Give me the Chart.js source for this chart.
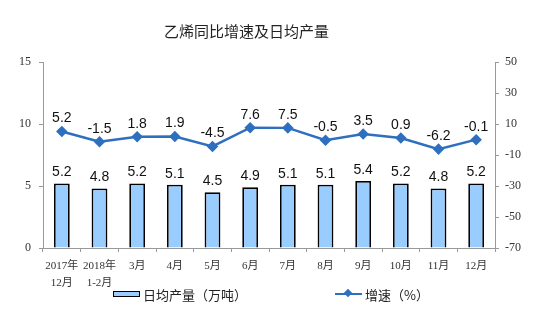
<!DOCTYPE html>
<html>
<head>
<meta charset="utf-8">
<script src="https://cdn.jsdelivr.net/npm/chart.js@4"></script>
<style>
  body { margin: 0; background: #fff; }
  #wrap { position: relative; width: 541px; height: 324px; }
  #title { position: absolute; left: 0; width: 493px; top: 20px; text-align: center;
    font: 15px "Noto Sans CJK SC", sans-serif; color: #222; }
  .leg { position: absolute; top: 283px; font: 13px "Noto Sans CJK SC", sans-serif; color: #222; }
  .leg span { display: inline-block; vertical-align: middle; }
  .box { width: 25px; height: 4px; background: #99ccff; border: 1.5px solid #000; margin-right: 3px; }
  .ln { position: relative; width: 27px; height: 2px; background: #2e6fbf; margin-right: 3px; }
  .ln i { position: absolute; left: 10px; top: -3px; width: 6px; height: 6px; background: #2e6fbf; transform: rotate(45deg); }
</style>
</head>
<body>
<div id="wrap">
  <canvas id="chart" width="541" height="324"></canvas>
  <div id="title">乙烯同比增速及日均产量</div>
  <div class="leg" style="left:113px"><span class="box"></span><span>日均产量（万吨）</span></div>
  <div class="leg" style="left:335px"><span class="ln"><i></i></span><span>增速（%）</span></div>
</div>
<script>
const categories = [["2017年", "12月"], ["2018年", "1-2月"], "3月", "4月", "5月", "6月", "7月", "8月", "9月", "10月", "11月", "12月"];
const dailyOutput = [5.2, 4.8, 5.2, 5.1, 4.5, 4.9, 5.1, 5.1, 5.4, 5.2, 4.8, 5.2];
const growthRate = [5.2, -1.5, 1.8, 1.9, -4.5, 7.6, 7.5, -0.5, 3.5, 0.9, -6.2, -0.1];

const tickFont = { family: "'Liberation Serif', 'Noto Sans CJK SC', serif", size: 12 };
const xFont = { family: "'Liberation Serif', 'Noto Sans CJK SC', serif", size: 11, lineHeight: 1.5 };
const axisColor = "#999";

// draws the value above each bar and each line point
const valueLabels = {
    id: "valueLabels",
    afterDatasetsDraw(chart) {
        const ctx = chart.ctx;
        ctx.save();
        ctx.font = "14px 'Liberation Sans', Arial, sans-serif";
        ctx.fillStyle = "#111";
        ctx.textAlign = "center";
        ctx.textBaseline = "bottom";
        chart.data.datasets.forEach((ds, i) => {
            const meta = chart.getDatasetMeta(i);
            meta.data.forEach((el, j) => {
                const off = ds.type === "line" ? 6 : 4;
                ctx.fillText(ds.data[j].toFixed(1), el.x, el.y - off);
            });
        });
        ctx.restore();
    }
};

new Chart(document.getElementById("chart"), {
    data: {
        labels: categories,
        datasets: [
            {
                type: "line",
                label: "增速（%）",
                data: growthRate,
                yAxisID: "y1",
                borderColor: "#2e6fbf",
                backgroundColor: "#2e6fbf",
                borderWidth: 2.5,
                pointStyle: "rectRot",
                pointRadius: 4,
                tension: 0
            },
            {
                type: "bar",
                label: "日均产量（万吨）",
                data: dailyOutput,
                yAxisID: "y",
                backgroundColor: "#99ccff",
                borderColor: "#000",
                borderWidth: 1.8,
                barPercentage: 0.42,
                categoryPercentage: 1
            }
        ]
    },
    options: {
        responsive: false,
        animation: false,
        layout: { padding: { top: 62, left: 0, right: 0, bottom: 0 } },
        plugins: { legend: { display: false }, title: { display: false }, tooltip: { enabled: false } },
        scales: {
            x: {
                grid: { display: true, drawOnChartArea: false, offset: true, tickLength: 4, color: axisColor },
                border: { color: axisColor },
                ticks: { color: "#333", font: xFont, maxRotation: 0, autoSkip: false, padding: 6 },
                afterFit(s) { s.height = 76; }
            },
            y: {
                position: "left",
                min: 0, max: 15,
                ticks: { stepSize: 5, color: "#333", font: tickFont, padding: 8 },
                grid: { drawOnChartArea: false, tickLength: 4, color: axisColor },
                border: { color: axisColor },
                afterFit(s) { s.width = 43; }
            },
            y1: {
                position: "right",
                min: -70, max: 50,
                ticks: { stepSize: 20, color: "#333", font: tickFont, padding: 6 },
                grid: { drawOnChartArea: false, tickLength: 4, color: axisColor },
                border: { color: axisColor },
                afterFit(s) { s.width = 46; }
            }
        }
    },
    plugins: [valueLabels]
});
</script>
</body>
</html>
